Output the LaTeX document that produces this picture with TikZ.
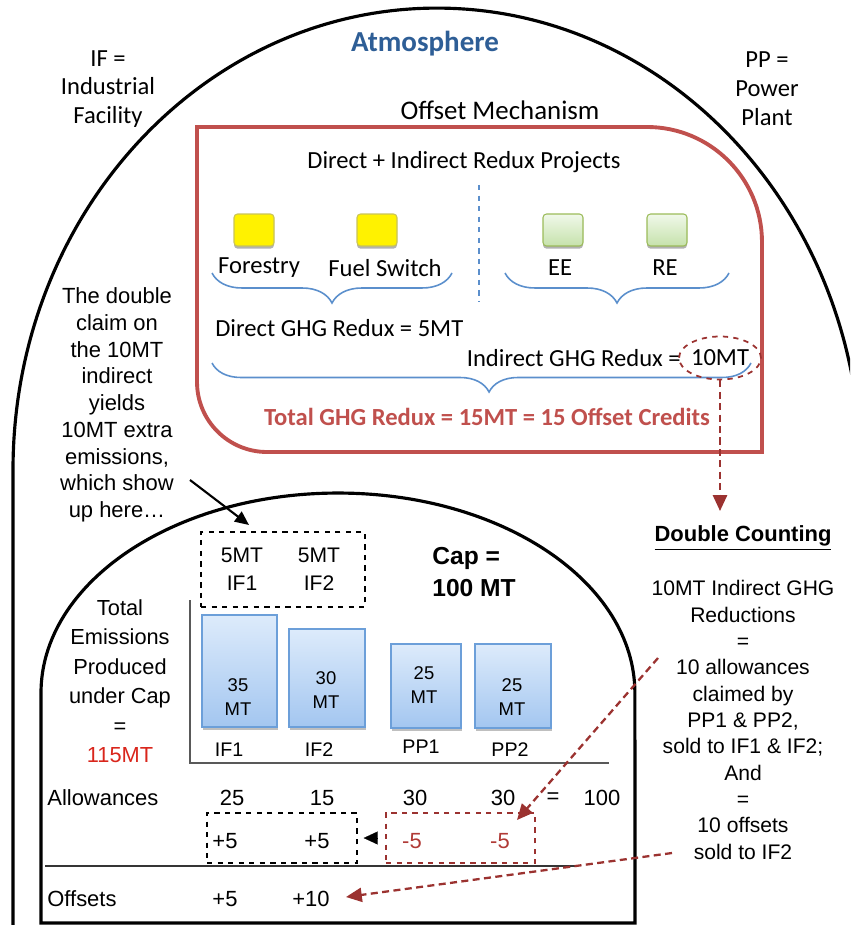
\documentclass[tikz,border=0pt]{standalone}
\usepackage{fontspec}
\setmainfont{Carlito}
\newfontfamily\arl{Liberation Sans}
\usetikzlibrary{arrows.meta,shapes.geometric,decorations.pathreplacing}
\definecolor{boxred}{HTML}{C0504D}
\definecolor{dred}{HTML}{9B3230}
\definecolor{atmblue}{HTML}{2E5E96}
\definecolor{brblue}{HTML}{5B8FCC}
\definecolor{emred}{HTML}{D9261C}
\definecolor{axisgray}{HTML}{595959}
\definecolor{bartop}{HTML}{DDEBFB}
\definecolor{barbot}{HTML}{A3C6F0}
\definecolor{barline}{HTML}{6C9FD9}
\definecolor{gtop}{HTML}{F0F8EA}
\definecolor{gbot}{HTML}{C6E2AB}
\definecolor{gline}{HTML}{9BBB59}
\definecolor{minusred}{HTML}{B03A36}
\tikzset{
  cal/.style={inner sep=0pt, font=\fontsize{14}{16.4}\selectfont},
  ar/.style={inner sep=0pt, font=\arl\fontsize{12.5}{15}\selectfont},
  dcline/.style={dred, line width=1.3pt, dash pattern=on 4pt off 2.5pt},
  redtip/.style={-{Triangle[length=9pt,width=8pt]}},
  projsq/.style={rounded corners=2pt, minimum width=0.8cm, minimum height=0.64cm, line width=0.6pt, inner sep=0pt,
    preaction={fill=black!30, transform canvas={yshift=-1.5pt}}},
  ysq/.style={projsq, draw=yellow!70!black!80, fill=yellow},
  gsq/.style={projsq, draw=gline, top color=gtop, bottom color=gbot},
  bar/.style={draw=barline, top color=bartop, bottom color=barbot, line width=0.8pt, inner sep=0pt,
    preaction={fill=black!25, transform canvas={xshift=0.6pt,yshift=-1.6pt}}},
  curlyb/.style={decorate, decoration={brace, mirror, amplitude=0.6cm}, brblue, line width=0.9pt},
  dbox/.style={draw, dashed, line width=0.8pt, inner sep=0pt},
}
\begin{document}
\begin{tikzpicture}[x=0.02cm,y=-0.02cm]
\useasboundingbox (0,0) rectangle (850,925);
\clip (0,0) rectangle (850,925);

% atmosphere dome
\draw[line width=1.8pt] (13,940) -- (13,470)
  arc[start angle=180, end angle=0, x radius=8.48cm, y radius=9.24cm] -- (861,940);

% offset mechanism box
\draw[boxred, line width=2.2pt] (197,300) -- (197,127) -- (647,127)
  arc[start angle=90, end angle=0, radius=2.3cm] -- (762,452) -- (267,452)
  arc[start angle=270, end angle=180, radius=1.4cm] -- cycle;

% emissions dome
\draw[line width=1.8pt] (41,923) -- (41,693)
  arc[start angle=180, end angle=0, x radius=5.94cm, y radius=4cm] -- (635,923) -- cycle;

% top texts
\node[inner sep=0pt, font=\fontsize{16.5}{19}\selectfont\bfseries, text=atmblue] (atm) at (425,44) {Atmosphere};
\node[cal, align=center, font=\fontsize{14}{16.4}\selectfont] (ifdef) at (108,89) {IF =\\Industrial\\Facility};
\node[cal, align=center, font=\fontsize{14}{16.4}\selectfont] (ppdef) at (767,89) {PP =\\Power\\Plant};
\node[inner sep=0pt, font=\fontsize{15.3}{18}\selectfont] (offm) at (500,110) {Offset Mechanism};
\node[cal] (proj) at (464,162) {Direct + Indirect Redux Projects};

% project squares
\node[ysq] (sq1) at (254,230) {};
\node[ysq] (sq2) at (377,230) {};
\node[gsq] (sq3) at (563,230) {};
\node[gsq] (sq4) at (667,230) {};
\node[cal] (lfor) at (259,268) {Forestry};
\node[cal] (lfuel) at (385,268) {Fuel Switch};
\node[cal] (lee) at (560,268) {EE};
\node[cal] (lre) at (665,268) {RE};

% braces and divider
\draw[curlyb] (212,273) -- (452,273);
\draw[curlyb] (505,273) -- (729,273);
\draw[brblue, line width=0.7pt, dashed] (479,185) -- (479,302);
\draw[curlyb, decoration={brace, mirror, amplitude=0.58cm, aspect=0.514}] (212,363) -- (751,363);

\node[cal, anchor=west] (direct) at (215,328) {Direct GHG Redux = 5MT};
\node[cal, anchor=east] (indirect) at (681,358) {Indirect GHG Redux =};
\node[cal, ellipse, draw=dred, dashed, line width=1pt, minimum width=1.48cm, minimum height=0.86cm] (ell) at (720,358) {10MT};
\node[inner sep=0pt, font=\fontsize{14}{16.4}\selectfont\bfseries, text=boxred] (total) at (487,417) {Total GHG Redux = 15MT = 15 Offset Credits};

% double counting
\coordinate (dcTip) at (720,511);
\draw[dcline, redtip] (ell.south) -- (dcTip);
\node[inner sep=0pt, font=\arl\fontsize{12.5}{15}\selectfont\bfseries] (dchead) at (743,538) {\underline{Double Counting}};
\node[ar, align=center, font=\arl\fontsize{12}{15}\selectfont] (dctext) at (743,720)
  {10MT Indirect GHG\\Reductions\\=\\10 allowances\\claimed by\\PP1 \& PP2,\\sold to IF1 \& IF2;\\And\\=\\10 offsets\\sold to IF2};

% left note
\node[ar, align=center, font=\arl\fontsize{12.5}{15.2}\selectfont] (note) at (117,405)
  {The double\\claim on\\the 10MT\\indirect\\yields\\10MT extra\\emissions,\\which show\\up here\ldots};
\coordinate (noteS) at (190,480);
\coordinate (noteT) at (249,525);
\draw[line width=1.2pt, -{Triangle[length=8pt,width=7pt]}] (noteS) -- (noteT);

% 5MT box
\node[dbox, minimum width=3.28cm, minimum height=1.5cm] (box5) at (283,569.5) {};
\node[ar, align=center, font=\arl\fontsize{12}{15.9}\selectfont] (t51) at (242,569) {5MT\\IF1};
\node[ar, align=center, font=\arl\fontsize{12}{15.9}\selectfont] (t52) at (319,569) {5MT\\IF2};

\node[inner sep=0pt, align=left, anchor=west, font=\arl\fontsize{14}{18}\selectfont\bfseries] (cap) at (432,572) {Cap =\\100 MT};

\node[ar, align=center, font=\arl\fontsize{12.4}{16.8}\selectfont] (totem) at (120,681)
  {Total\\Emissions\\Produced\\under Cap\\=\\{\color{emred}115MT}};

% axis
\draw[axisgray, line width=1.3pt] (190,600) -- (190,763) -- (609,763);

% bars
\node[bar, minimum width=1.5cm, minimum height=2.24cm] (bar1) at (239.5,671) {};
\node[bar, minimum width=1.52cm, minimum height=1.96cm] (bar2) at (327,678) {};
\node[bar, minimum width=1.4cm, minimum height=1.68cm] (bar3) at (426,686) {};
\node[bar, minimum width=1.52cm, minimum height=1.68cm] (bar4) at (513,686) {};
\node[ar, align=center, font=\arl\fontsize{10.5}{13.3}\selectfont] (v1) at (238,697) {35\\MT};
\node[ar, align=center, font=\arl\fontsize{10.5}{13.3}\selectfont] (v2) at (326,690) {30\\MT};
\node[ar, align=center, font=\arl\fontsize{10.5}{13.3}\selectfont] (v3) at (424,685) {25\\MT};
\node[ar, align=center, font=\arl\fontsize{10.5}{13.3}\selectfont] (v4) at (512,697) {25\\MT};
\node[ar, font=\arl\fontsize{11.2}{13}\selectfont] (n1) at (229,750) {IF1};
\node[ar, font=\arl\fontsize{11.2}{13}\selectfont] (n2) at (319,750) {IF2};
\node[ar, font=\arl\fontsize{11.2}{13}\selectfont] (n3) at (421,747) {PP1};
\node[ar, font=\arl\fontsize{11.2}{13}\selectfont] (n4) at (510,750) {PP2};

% allowances row
\node[ar, anchor=west] (allow) at (47,798) {Allowances};
\node[ar] (a1) at (232,798) {25};
\node[ar] (a2) at (322,798) {15};
\node[ar] (a3) at (415,798) {30};
\node[ar] (a4) at (503,798) {30};
\node[ar] (aeq) at (553,798) {=};
\node[ar] (atot) at (602,798) {100};

% transfer boxes
\node[dbox, minimum width=3cm, minimum height=1cm] (plusbox) at (282,838) {};
\node[dbox, draw=dred, minimum width=2.98cm, minimum height=1cm] (minusbox) at (460.5,838) {};
\node[ar] (p1) at (225,841) {+5};
\node[ar] (p2) at (317,841) {+5};
\node[ar, text=minusred] (m1) at (412,841) {-5};
\node[ar, text=minusred] (m2) at (500,841) {-5};
\draw[line width=0.1pt, -{Triangle[length=0.28cm,width=0.26cm]}, shorten <=0.18cm, shorten >=0.12cm] (minusbox.west) -- (plusbox.east);

% separator
\draw[axisgray!60!black, line width=1.3pt] (45,866) -- (577,866);

% offsets row
\node[ar, anchor=west] (offs) at (47,899) {Offsets};
\node[ar] (o1) at (225,899) {+5};
\node[ar] (o2) at (311,899) {+10};

% red dashed arrows
\coordinate (aS) at (658,658);
\coordinate (aT) at (517,820);
\coordinate (bS) at (672,853);
\coordinate (bT) at (346,897);
\draw[dcline, redtip] (aS) -- (aT);
\draw[dcline, redtip] (bS) -- (bT);
\end{tikzpicture}
\end{document}
